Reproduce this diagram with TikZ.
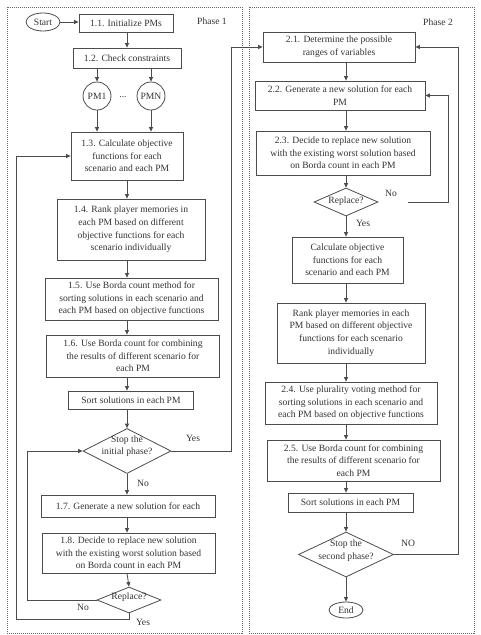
\documentclass[tikz,border=0pt]{standalone}
\usepackage{fontspec}
\setmainfont{Liberation Serif}
\usetikzlibrary{shapes.geometric,arrows.meta}
\begin{document}
\begin{tikzpicture}[x=1pt,y=-1pt,
  ln/.style={draw=black!70, line width=0.8pt},
  arr/.style={ln, -{Triangle[length=4.5pt,width=4pt]}},
  txt/.style={font=\fontsize{9.6}{12.6}\selectfont, text=black!80, align=center, inner sep=0pt},
  box/.style={txt, draw=black!70, line width=0.8pt, rectangle, inner sep=1pt},
  dia/.style={draw=black!70, line width=0.8pt, diamond, inner sep=0pt},
  oval/.style={txt, draw=black!70, line width=0.8pt, ellipse, inner sep=0pt},
  panel/.style={draw=black!60, line width=0.6pt, dash pattern=on 1pt off 1pt}
]
\useasboundingbox (0,0) rectangle (481,635);
\draw[panel] (7,7) rectangle (242,633);
\draw[panel] (249,7) rectangle (474,633);
\node[txt] (ph1) at (212,21) {Phase 1};
\node[txt] (ph2) at (438,22) {Phase 2};

% left column
\node[oval, minimum width=34, minimum height=18] (start) at (43,22) {Start};
\node[box, minimum width=94, minimum height=18] (b11) at (126,23) {1.1. Initialize PMs};
\node[box, minimum width=108, minimum height=20] (b12) at (127,58) {1.2. Check constraints};
\node[txt, draw=black!70, line width=0.8pt, circle, minimum size=28] (pm1) at (97,96) {PM1};
\node[txt, draw=black!70, line width=0.8pt, circle, minimum size=28] (pmn) at (151,96) {PMN};
\node[txt] (dots) at (123,97) {...};
\node[box, minimum width=112, minimum height=48] (b13) at (127,156) {1.3. Calculate objective\\functions for each\\scenario and each PM};
\node[box, minimum width=148, minimum height=61] (b14) at (131,229.5) {1.4. Rank player memories in\\each PM based on different\\objective functions for each\\scenario individually};
\node[box, minimum width=173, minimum height=42] (b15) at (131.5,299) {1.5. Use Borda count method for\\sorting solutions in each scenario and\\each PM based on objective functions};
\node[box, minimum width=173, minimum height=42] (b16) at (133,356) {1.6. Use Borda count for combining\\the results of different scenario for\\each PM};
\node[box, minimum width=125, minimum height=18] (s1) at (131,400) {Sort solutions in each PM};
\node[dia, minimum width=88, minimum height=45] (d1) at (127,451) {};
\node[txt] (d1t) at (127,446) {Stop the\\initial phase?};
\node[box, minimum width=174, minimum height=22] (b17) at (128,506) {1.7. Generate a new solution for each};
\node[box, minimum width=173, minimum height=40] (b18) at (128.5,553) {1.8. Decide to replace new solution\\with the existing worst solution based\\on Borda count in each PM};
\node[dia, minimum width=64, minimum height=26] (r1) at (129,600) {};
\node[txt] (r1t) at (129,597) {Replace?};

\coordinate (cl) at (127,0);
\draw[arr] (start.east) -- (start.east -| b11.west);
\draw[arr] (b11.south -| cl) -- (b12.north -| cl);
\draw[arr] (b12.south -| pm1) -- (pm1.north);
\draw[arr] (b12.south -| pmn) -- (pmn.north);
\draw[arr] (pm1.south) -- (pm1.south |- b13.north);
\draw[arr] (pmn.south) -- (pmn.south |- b13.north);
\draw[arr] (b13.south -| cl) -- (b14.north -| cl);
\draw[arr] (b14.south -| cl) -- (b15.north -| cl);
\draw[arr] (b15.south -| cl) -- (b16.north -| cl);
\draw[arr] (b16.south -| cl) -- (s1.north -| cl);
\draw[arr] (s1.south -| cl) -- (d1.north);
\draw[arr] (d1.south) -- (b17.north -| cl);
\draw[arr] (b17.south -| cl) -- (b18.north -| cl);
\draw[arr] (b18.south -| cl) -- (r1.north);

\node[txt] (y1) at (193,438) {Yes};
\node[txt] (n1) at (143,483) {No};
\node[txt] (n2) at (83,607) {No};
\node[txt] (y2) at (143,622) {Yes};

% right column
\node[box, minimum width=152, minimum height=30] (b21) at (339,47) {2.1. Determine the possible\\ranges of variables};
\node[box, minimum width=170, minimum height=29] (b22) at (340,95.5) {2.2. Generate a new solution for each\\PM};
\node[box, minimum width=174, minimum height=44] (b23) at (343,153) {2.3. Decide to replace new solution\\with the existing worst solution based\\on Borda count in each PM};
\node[dia, minimum width=64, minimum height=28] (r2) at (346,202) {};
\node[txt] (r2t) at (346,201) {Replace?};
\node[box, minimum width=111, minimum height=46] (c2) at (347.5,260) {Calculate objective\\functions for each\\scenario and each PM};
\node[box, minimum width=148, minimum height=60] (k2) at (351,333) {Rank player memories in each\\PM based on different objective\\functions for each scenario\\individually};
\node[box, minimum width=172, minimum height=42] (b24) at (351,403) {2.4. Use plurality voting method for\\sorting solutions in each scenario and\\each PM based on objective functions};
\node[box, minimum width=173, minimum height=41] (b25) at (353.5,460.5) {2.5. Use Borda count for combining\\the results of different scenario for\\each PM};
\node[box, minimum width=125, minimum height=19] (s2) at (350.5,502.5) {Sort solutions in each PM};
\node[dia, minimum width=95, minimum height=45] (d2) at (346,554.5) {};
\node[txt] (d2t) at (346,550.5) {Stop the\\second phase?};
\node[oval, minimum width=34, minimum height=16] (end) at (346,610) {End};

\coordinate (cr) at (346,0);
\draw[arr] (b21.south -| cr) -- (b22.north -| cr);
\draw[arr] (b22.south -| cr) -- (b23.north -| cr);
\draw[arr] (b23.south -| cr) -- (r2.north);
\draw[arr] (r2.south) -- (c2.north -| cr);
\draw[arr] (c2.south -| cr) -- (k2.north -| cr);
\draw[arr] (k2.south -| cr) -- (b24.north -| cr);
\draw[arr] (b24.south -| cr) -- (b25.north -| cr);
\draw[arr] (b25.south -| cr) -- (s2.north -| cr);
\draw[arr] (s2.south -| cr) -- (d2.north);
\draw[arr] (d2.south) -- (end.north);

\node[txt] (n3) at (391,193) {No};
\node[txt] (y3) at (363,223) {Yes};
\node[txt] (n4) at (408,543) {NO};

% loops
\coordinate (t1) at (231,0);
\draw[arr] (d1.east) -| (t1 |- b21.west) -- (b21.west);
\coordinate (t2) at (27,0);
\draw[arr] (r1.west) -| (t2 |- d1.west) -- (d1.west);
\coordinate (t3) at (16,619);
\draw[arr] (r1.south) |- (t3) |- (b13.west);
\coordinate (t4) at (448,0);
\draw[arr] ([xshift=30]r2.east) -| (t4 |- b22.east) -- (b22.east);
\coordinate (t5) at (458,0);
\draw[arr] (d2.east) -| (t5 |- b21.east) -- (b21.east);
\end{tikzpicture}
\end{document}
